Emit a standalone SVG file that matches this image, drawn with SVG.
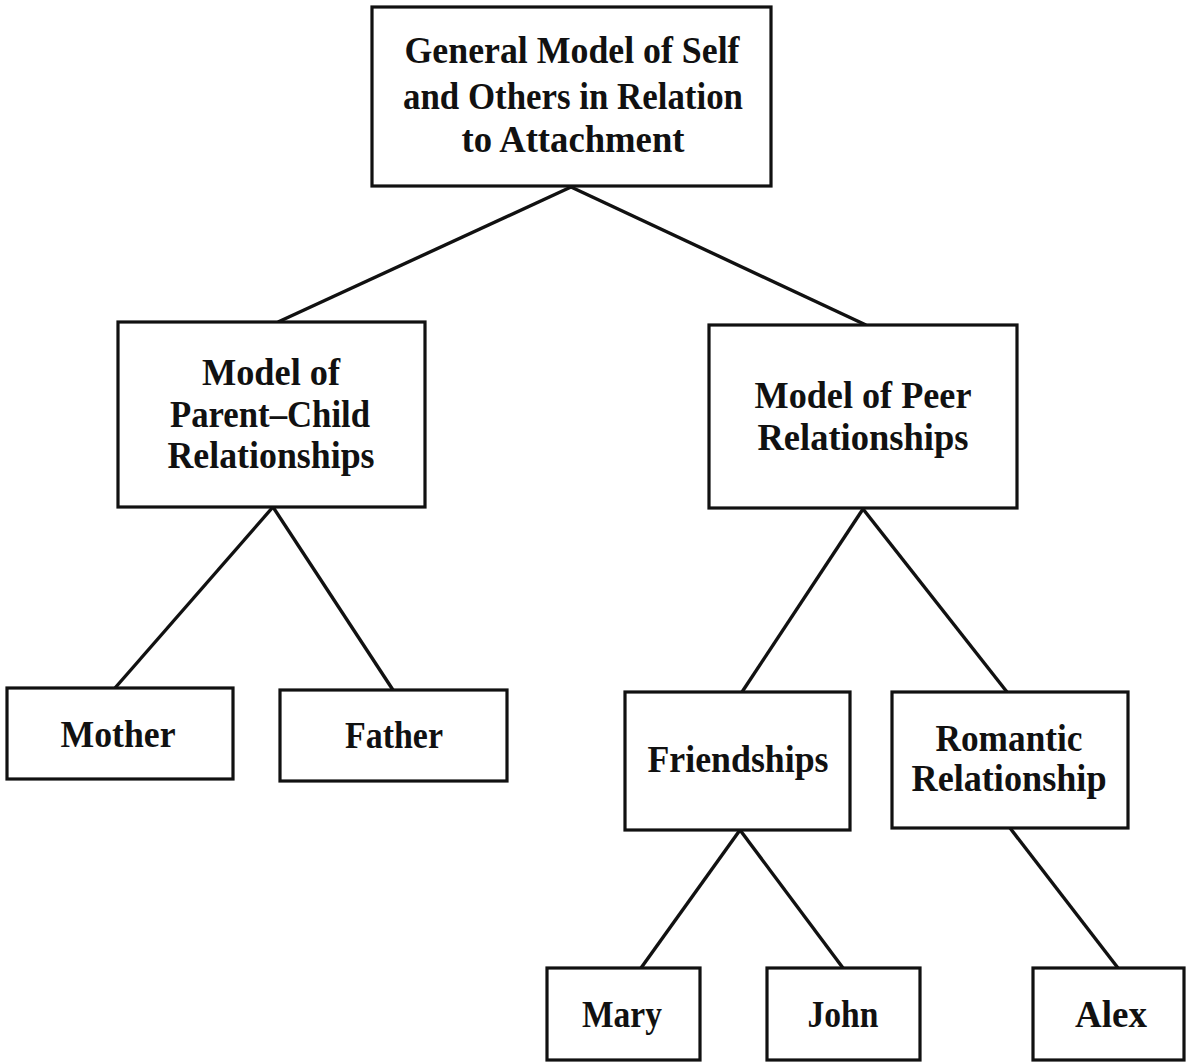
<svg xmlns="http://www.w3.org/2000/svg" width="1188" height="1064" viewBox="0 0 1188 1064">
<style>
.box{fill:#fff;stroke:#111;stroke-width:3.2}
.lbl{font-family:"Liberation Serif","DejaVu Serif",serif;font-weight:bold;font-size:37px;fill:#111;text-anchor:middle}
.edge{stroke:#111;stroke-width:3.4;fill:none}
</style>
<rect width="1188" height="1064" fill="#fff"/>
<g id="connectors">
<line class="edge" x1="571" y1="187" x2="278" y2="322"/>
<line class="edge" x1="571" y1="187" x2="866" y2="325"/>
<line class="edge" x1="273" y1="507" x2="115" y2="688"/>
<line class="edge" x1="273" y1="507" x2="393" y2="690"/>
<line class="edge" x1="863" y1="509" x2="742" y2="692"/>
<line class="edge" x1="863" y1="509" x2="1007" y2="692"/>
<line class="edge" x1="740" y1="830" x2="641" y2="968"/>
<line class="edge" x1="740" y1="830" x2="843" y2="968"/>
<line class="edge" x1="1010" y1="828" x2="1118" y2="968"/>
</g>
<g id="node-general">
<rect class="box" x="372" y="7" width="399" height="179"/>
<text class="lbl" x="572" y="63" textLength="335" lengthAdjust="spacingAndGlyphs">General Model of Self</text>
<text class="lbl" x="573" y="109" textLength="340" lengthAdjust="spacingAndGlyphs">and Others in Relation</text>
<text class="lbl" x="573" y="152" textLength="223" lengthAdjust="spacingAndGlyphs">to Attachment</text>
</g>
<g id="node-parent-child">
<rect class="box" x="118" y="322" width="307" height="185"/>
<text class="lbl" x="271" y="385" textLength="138" lengthAdjust="spacingAndGlyphs">Model of</text>
<text class="lbl" x="270" y="427" textLength="200" lengthAdjust="spacingAndGlyphs">Parent–Child</text>
<text class="lbl" x="271" y="468" textLength="207" lengthAdjust="spacingAndGlyphs">Relationships</text>
</g>
<g id="node-peer">
<rect class="box" x="709" y="325" width="308" height="183"/>
<text class="lbl" x="863" y="408" textLength="217" lengthAdjust="spacingAndGlyphs">Model of Peer</text>
<text class="lbl" x="863" y="450" textLength="211" lengthAdjust="spacingAndGlyphs">Relationships</text>
</g>
<g id="node-mother">
<rect class="box" x="7" y="688" width="226" height="91"/>
<text class="lbl" x="118" y="747" textLength="115" lengthAdjust="spacingAndGlyphs">Mother</text>
</g>
<g id="node-father">
<rect class="box" x="280" y="690" width="227" height="91"/>
<text class="lbl" x="394" y="748" textLength="98" lengthAdjust="spacingAndGlyphs">Father</text>
</g>
<g id="node-friendships">
<rect class="box" x="625" y="692" width="225" height="138"/>
<text class="lbl" x="738" y="772" textLength="181" lengthAdjust="spacingAndGlyphs">Friendships</text>
</g>
<g id="node-romantic">
<rect class="box" x="892" y="692" width="236" height="136"/>
<text class="lbl" x="1009" y="751" textLength="147" lengthAdjust="spacingAndGlyphs">Romantic</text>
<text class="lbl" x="1009" y="791" textLength="195" lengthAdjust="spacingAndGlyphs">Relationship</text>
</g>
<g id="node-mary">
<rect class="box" x="547" y="968" width="153" height="92"/>
<text class="lbl" x="622" y="1027" textLength="80" lengthAdjust="spacingAndGlyphs">Mary</text>
</g>
<g id="node-john">
<rect class="box" x="767" y="968" width="153" height="92"/>
<text class="lbl" x="843" y="1027" textLength="71" lengthAdjust="spacingAndGlyphs">John</text>
</g>
<g id="node-alex">
<rect class="box" x="1033" y="968" width="151" height="92"/>
<text class="lbl" x="1111" y="1027" textLength="72" lengthAdjust="spacingAndGlyphs">Alex</text>
</g>
</svg>
